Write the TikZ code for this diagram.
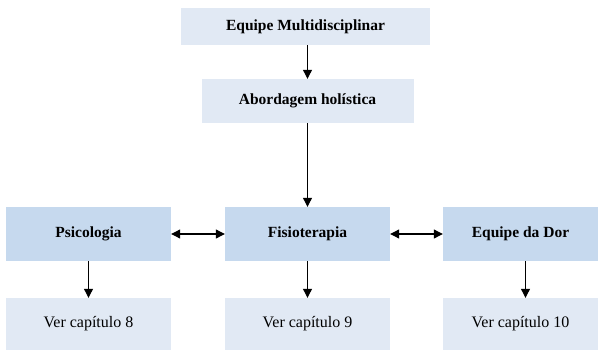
\documentclass[tikz,border=0pt]{standalone}
\usepackage{fontspec}
\setmainfont{Liberation Serif}
\usetikzlibrary{arrows.meta}
\definecolor{palebox}{HTML}{E1E9F4}
\definecolor{darkbox}{HTML}{C6D9EE}
\begin{document}
\begin{tikzpicture}[x=1pt, y=1pt,
    pale/.style={fill=palebox, inner sep=0pt, minimum height=44pt, font=\fontsize{16}{18}\selectfont},
    head/.style={fill=palebox, inner sep=0pt, minimum height=44pt, font=\fontsize{15.5}{18}\selectfont\bfseries},
    dark/.style={fill=darkbox, inner sep=0pt, minimum width=165pt, minimum height=54pt, font=\fontsize{15.5}{18}\selectfont\bfseries},
    link/.style={-{Triangle[length=9pt, width=9pt]}, line width=1.1pt},
    both/.style={{Triangle[length=9pt, width=9pt]}-{Triangle[length=9pt, width=9pt]}, line width=1.1pt}]
      \useasboundingbox (0, 0) rectangle (602, -350);

      \node[head, minimum width=249pt, minimum height=37pt] (equipe) at (305.5, -26.5) {Equipe Multidisciplinar};
      \node[head, minimum width=212pt] (abord) at (307.5, -101) {Abordagem holística};

      \node[dark] (psico) at (88.5, -234) {Psicologia};
      \node[dark] (fisio) at (307.5, -234) {Fisioterapia};
      \node[dark, minimum width=155pt] (dor) at (520.5, -234) {Equipe da Dor};

      \node[pale, minimum width=165pt, minimum height=52pt] (cap8) at (88.5, -324) {Ver capítulo 8};
      \node[pale, minimum width=165pt, minimum height=52pt] (cap9) at (307.5, -324) {Ver capítulo 9};
      \node[pale, minimum width=155pt, minimum height=52pt] (cap10) at (520.5, -324) {Ver capítulo 10};

      \draw[link] (abord.north |- equipe.south) -- (abord.north);
      \draw[link] (abord) -- (fisio);
      \draw[both] (psico) -- (fisio);
      \draw[both] (fisio) -- (dor);
      \draw[link] (psico) -- (cap8);
      \draw[link] (fisio) -- (cap9);
      \draw[link] (dor.south) ++(5, 0) coordinate (dorfoot) -- (dorfoot |- cap10.north);
    \end{tikzpicture}
\end{document}
